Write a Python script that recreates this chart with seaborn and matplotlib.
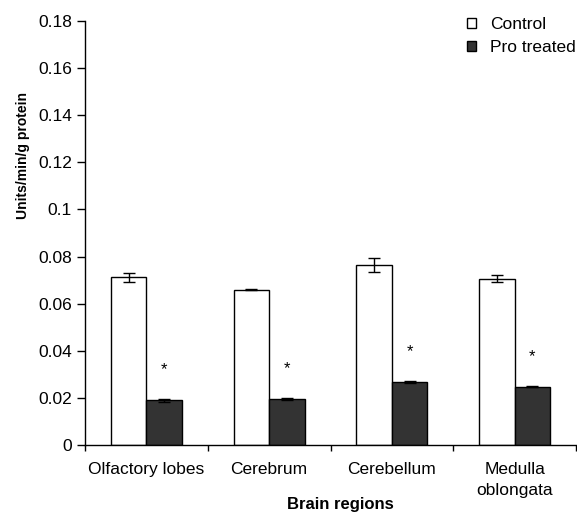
import matplotlib
matplotlib.use("Agg")
import matplotlib.pyplot as plt
import seaborn as sns
import pandas as pd
import numpy as np
from matplotlib.patches import Patch

regions = ["Olfactory lobes", "Cerebrum", "Cerebellum", "Medulla\noblongata"]
groups = ["Control", "Pro treated"]
control_vals = [0.0712, 0.0660, 0.0765, 0.0706]
control_err = [0.0020, 0.0004, 0.0030, 0.0015]
pro_vals = [0.0190, 0.0196, 0.0266, 0.0248]
pro_err = [0.0007, 0.0005, 0.0004, 0.0002]
yticks = [0, 0.02, 0.04, 0.06, 0.08, 0.1, 0.12, 0.14, 0.16, 0.18]
ytick_labels = ["0", "0.02", "0.04", "0.06", "0.08", "0.1", "0.12", "0.14", "0.16", "0.18"]

df = pd.DataFrame({
    "region": regions * 2,
    "group": [groups[0]] * 4 + [groups[1]] * 4,
    "value": control_vals + pro_vals,
    "err": control_err + pro_err,
})

sns.set_theme(style="ticks")
plt.rcParams["font.family"] = ["Liberation Sans", "DejaVu Sans"]

fig = plt.figure(figsize=(5.77, 5.12), dpi=100)
ax = fig.add_axes([85 / 577, 67 / 512, 491 / 577, 424 / 512])

palette = {"Control": "#ffffff", "Pro treated": "#333333"}
sns.barplot(data=df, x="region", y="value", hue="group", order=regions,
            hue_order=groups, palette=palette, width=0.58, gap=0,
            errorbar=None, edgecolor="black", linewidth=1.0, saturation=1,
            ax=ax, legend=False)

# error bars and significance marks from bar patches
bars = [p for p in ax.patches]
for i, p in enumerate(bars):
    g = i // 4
    j = i % 4
    x = p.get_x() + p.get_width() / 2
    h = p.get_height()
    e = (control_err if g == 0 else pro_err)[j]
    ax.errorbar(x, h, yerr=e, color="black", capsize=4.3, elinewidth=1.0,
                capthick=1.0, fmt="none", zorder=5)
    if g == 1:
        ax.text(x, h + e + 0.0125, "*", ha="center", va="center", fontsize=12,
                color="black")

ax.set_ylim(0, 0.18)
ax.set_xlim(-0.5, 3.5)
ax.set_yticks(yticks)
ax.set_yticklabels(ytick_labels, fontsize=12.5)
ax.tick_params(axis="y", length=6, width=1, pad=3.5, color="black", labelcolor="black")
ax.set_xticks(range(4))
ax.set_xticklabels(regions, fontsize=12.5, linespacing=1.45)
ax.tick_params(axis="x", which="major", length=0, pad=12.5, labelcolor="black")
ax.set_xticks([-0.5, 0.5, 1.5, 2.5, 3.5], minor=True)
ax.tick_params(axis="x", which="minor", length=4, width=1, color="black")
sns.despine(ax=ax)
for s in ["left", "bottom"]:
    ax.spines[s].set_color("black")
    ax.spines[s].set_linewidth(1.0)

ax.set_ylabel("Units/min/g protein", fontsize=10, fontweight="bold", color="black")
ax.yaxis.set_label_coords(-0.112, 0.682)
ax.set_xlabel("Brain regions", fontsize=12, fontweight="bold", color="black")
ax.xaxis.set_label_coords(0.52, -0.123)

handles = [Patch(facecolor=palette[g], edgecolor="black", linewidth=1.0) for g in groups]
leg = fig.legend(handles, groups, loc="upper left", bbox_to_anchor=(467 / 577, 1 - 17 / 512),
                 frameon=False, fontsize=12.5, handlelength=0.5, handleheight=0.5,
                 handletextpad=0.85, labelspacing=0.45, borderpad=0, borderaxespad=0)
for t in leg.get_texts():
    t.set_color("black")

fig.savefig("out.png", dpi=100, facecolor="white")
